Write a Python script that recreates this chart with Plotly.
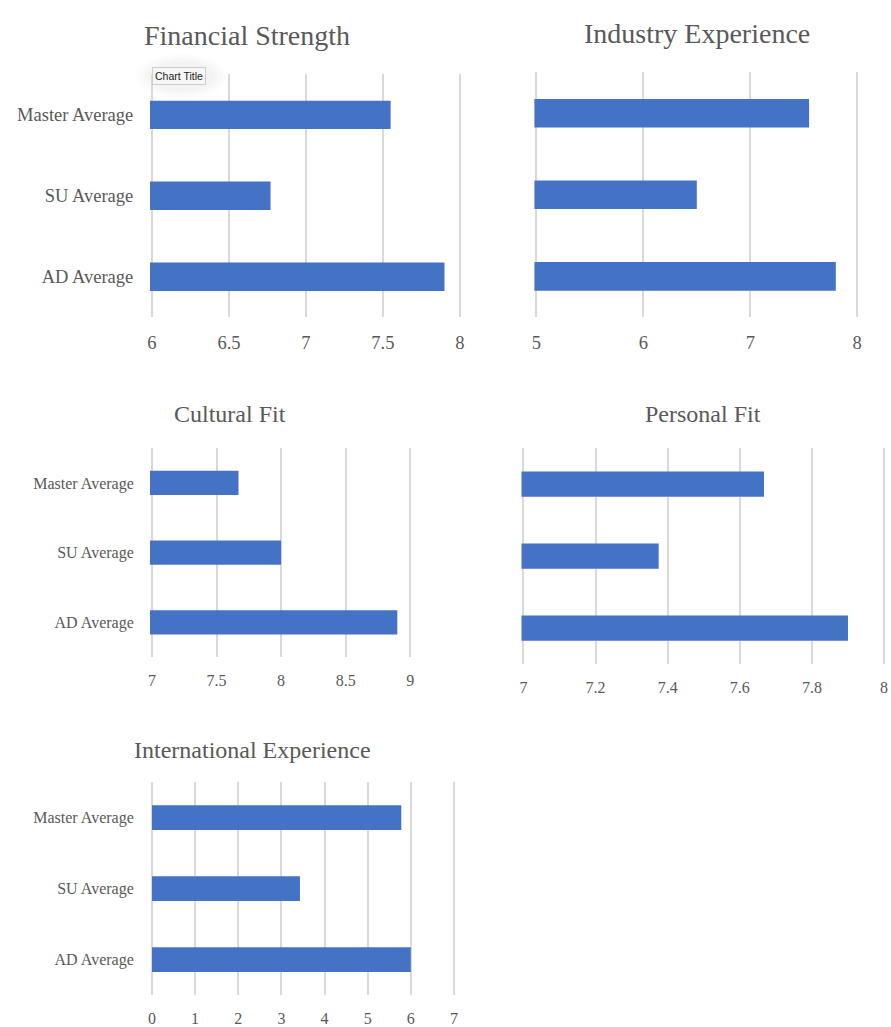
import plotly.graph_objects as go

# Groups shown on every panel (top to bottom)
categories = ["Master Average", "SU Average", "AD Average"]

# Average scores per criterion
financial_strength = [7.55, 6.77, 7.90]
industry_experience = [7.55, 6.50, 7.80]
cultural_fit = [7.67, 8.00, 8.90]
personal_fit = [7.667, 7.375, 7.90]
international_experience = [5.78, 3.43, 6.00]

W, H = 891, 1027
BAR = "#4472C4"
GRID = "#D9D9D9"
TXT = "#595959"
SERIF = "Liberation Serif, Times New Roman, serif"
PAD = 2  # px of slack so the first/last gridlines are drawn


def xdom(left, right):
    return [(left - PAD) / W, (right + PAD) / W]


def ydom(top, bottom):
    return [1 - bottom / H, 1 - top / H]


# title, values, x-domain(px), y-domain(px), x-range, dtick, show categories,
# title pos, title size, tick size, category size
panels = [
    ("Financial Strength", financial_strength, (150, 460), (75, 320), [6, 8], 0.5, True,
     (246, 36), 28, 18.5, 18.5),
    ("Industry Experience", industry_experience, (537, 860), (73, 320), [5, 8], 1, False,
     (699, 34), 28, 18.5, 18.5),
    ("Cultural Fit", cultural_fit, (150, 410), (452, 663), [7, 9], 0.5, True,
     (229, 418), 24, 16, 16),
    ("Personal Fit", personal_fit, (524, 887), (452, 670), [7, 8], 0.2, False,
     (705, 418), 24, 16, 16),
    ("International Experience", international_experience, (150, 454), (789, 1004), [0, 7], 1, True,
     (251, 757), 24, 16, 16),
]

fig = go.Figure()
annotations = []
layout = {}

for i, (title, vals, xd, yd, xr, dt, showcat, tpos, tsize, ksize, csize) in enumerate(panels, start=1):
    sfx = "" if i == 1 else str(i)
    upp = (xr[1] - xr[0]) / (xd[1] - xd[0])  # data units per pixel
    rng = [xr[0] - PAD * upp, xr[1] + PAD * upp]
    fig.add_trace(go.Bar(
        x=vals, y=categories, orientation="h",
        xaxis="x" + sfx, yaxis="y" + sfx,
        marker=dict(color=BAR, line=dict(width=0)),
        width=0.35, showlegend=False, hoverinfo="x+y",
    ))
    layout["xaxis" + sfx] = dict(
        domain=xdom(*xd), anchor="y" + sfx, range=rng, dtick=dt, tick0=xr[0],
        showgrid=True, gridcolor=GRID, gridwidth=1.6, zeroline=False, showline=False,
        ticks="outside", ticklen=9, tickcolor="rgba(0,0,0,0)",
        tickfont=dict(family=SERIF, size=ksize, color=TXT), fixedrange=True,
    )
    layout["yaxis" + sfx] = dict(
        domain=ydom(*yd), anchor="x" + sfx, type="category",
        categoryorder="array", categoryarray=categories,
        range=[2.5, -0.5], showgrid=False, zeroline=False, showline=False,
        showticklabels=showcat, ticks="outside", ticklen=14 - PAD, tickcolor="rgba(0,0,0,0)",
        tickfont=dict(family=SERIF, size=csize, color=TXT), fixedrange=True,
    )
    annotations.append(dict(
        text=title, x=tpos[0] / W, y=1 - tpos[1] / H, xref="paper", yref="paper",
        xanchor="center", yanchor="middle", showarrow=False,
        font=dict(family=SERIF, size=tsize, color=TXT),
    ))

# Hover tag on the first chart, with a faint round glow behind it
glow = [dict(type="circle", xref="paper", yref="paper", layer="below",
             x0=(150 - g) / W, x1=(210 + g) / W, y0=1 - (90 + g * 0.6) / H, y1=1 - (64 - g * 0.6) / H,
             fillcolor="rgba(0,0,0,0.012)", line=dict(width=0))
        for g in (16, 11, 7, 3)]
annotations.append(dict(
    text="Chart Title", x=150 / W, y=1 - 77 / H, xref="paper", yref="paper",
    xanchor="left", yanchor="middle", showarrow=False,
    font=dict(family="Liberation Sans, Arial, sans-serif", size=10.5, color="#222222"),
    bgcolor="#F6F6F6", bordercolor="#CFCFCF", borderwidth=1, borderpad=2,
))

fig.update_layout(
    width=W, height=H, margin=dict(l=0, r=0, t=0, b=0),
    paper_bgcolor="white", plot_bgcolor="rgba(0,0,0,0)",
    annotations=annotations, shapes=glow, **layout,
)

fig.write_html("out.html", config={"displayModeBar": False})
